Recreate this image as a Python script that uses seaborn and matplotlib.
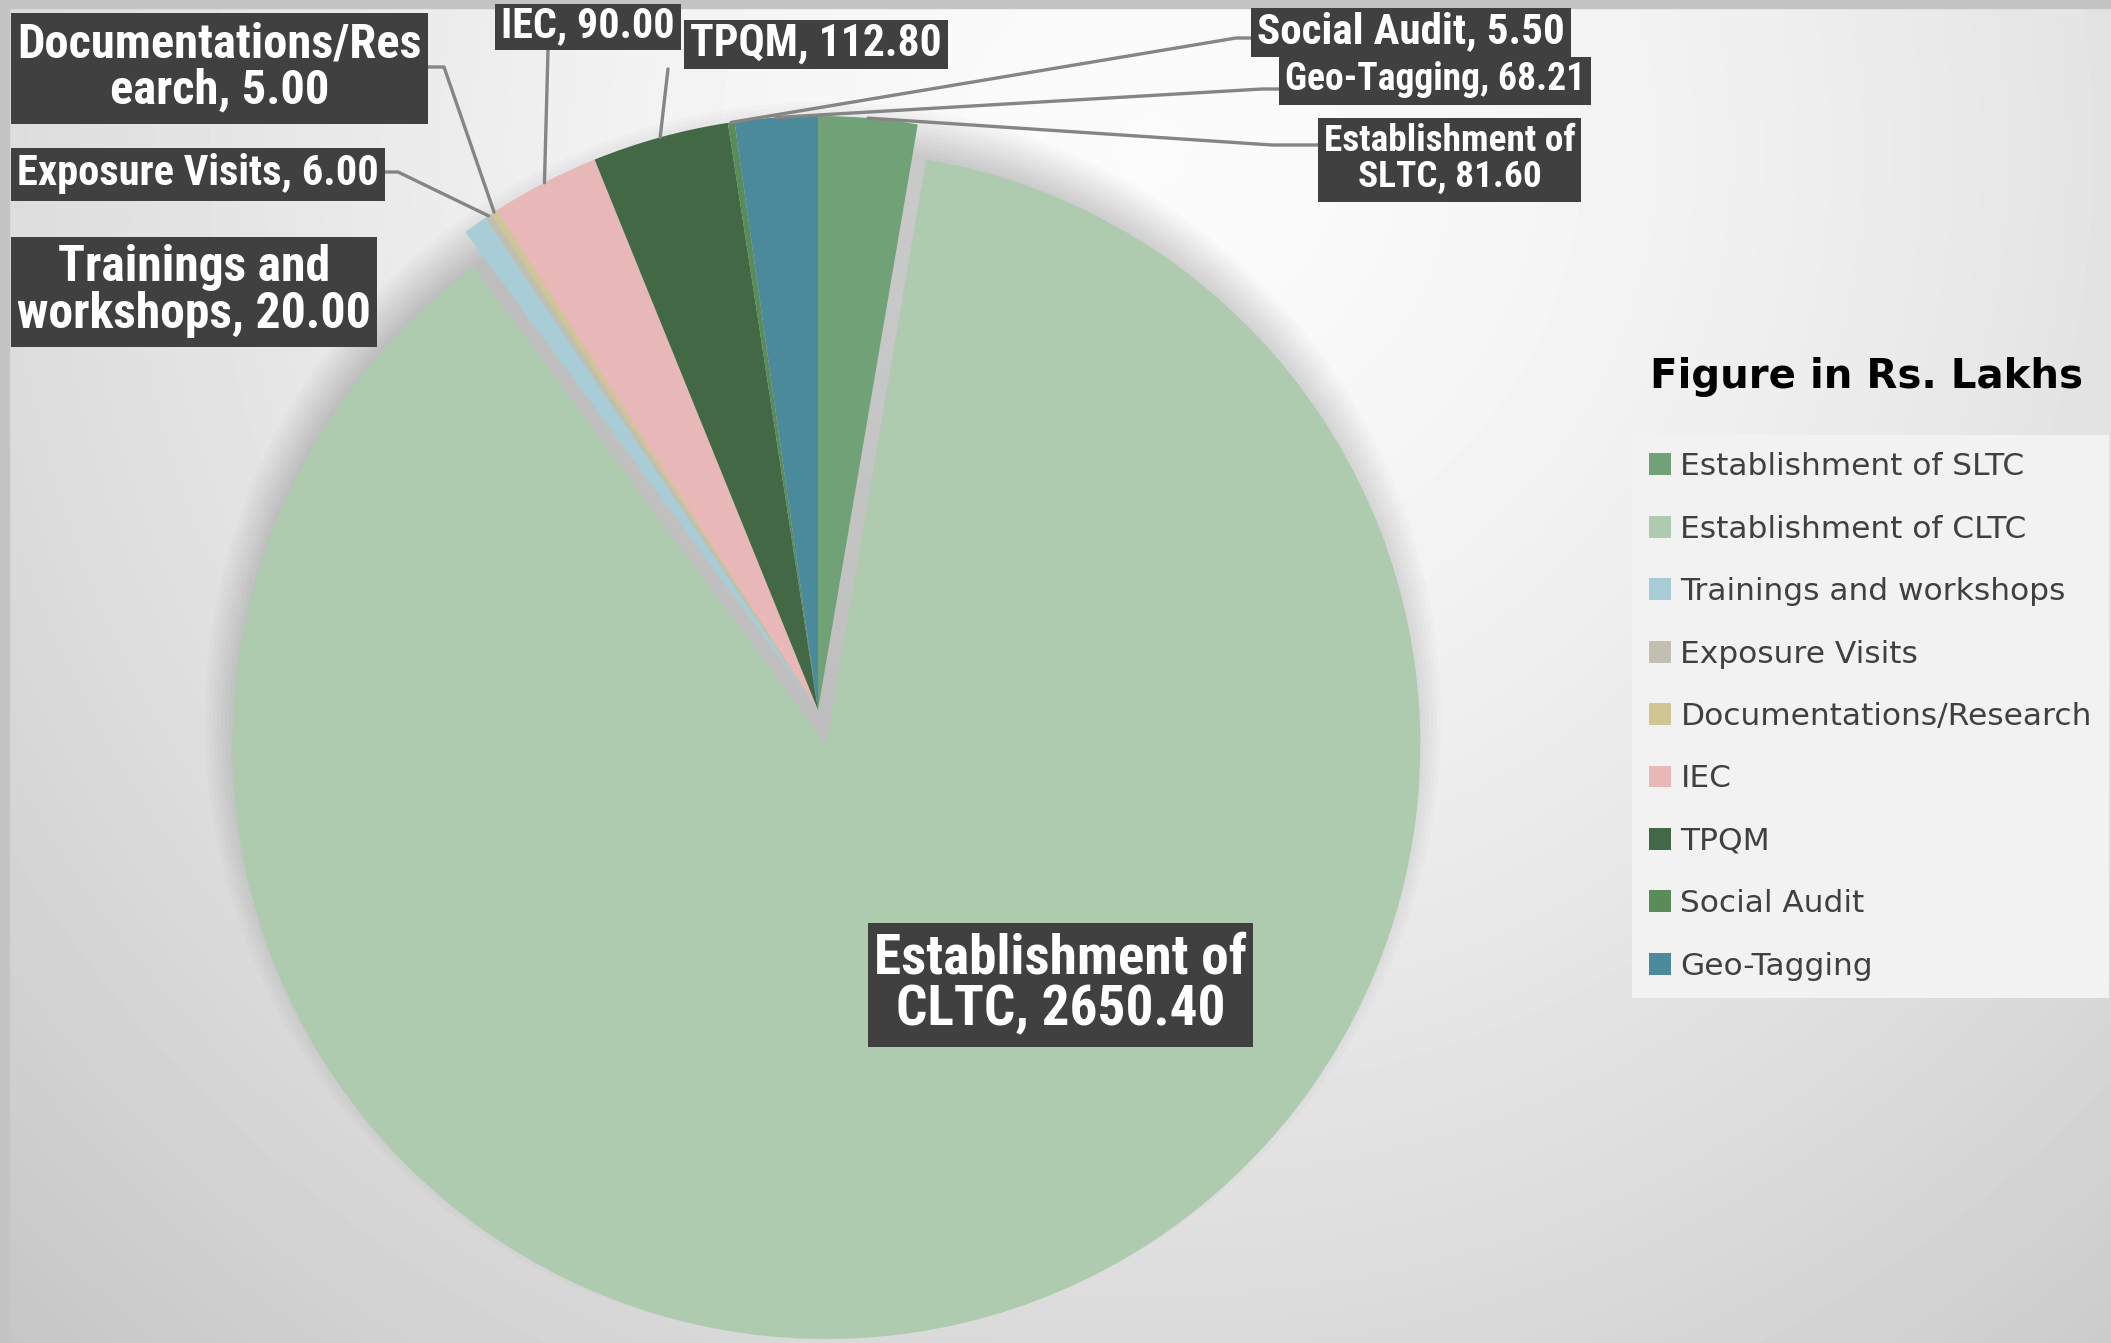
import numpy as np
import matplotlib.pyplot as plt
import seaborn as sns
from matplotlib import font_manager
from matplotlib.patches import Circle, Rectangle
from matplotlib.lines import Line2D

categories = ['Establishment of SLTC', 'Establishment of CLTC', 'Trainings and workshops',
              'Exposure Visits', 'Documentations/Research', 'IEC', 'TPQM',
              'Social Audit', 'Geo-Tagging']
values = [81.60, 2650.40, 20.00, 6.00, 5.00, 90.00, 112.80, 5.50, 68.21]
label_names = ['Establishment of\nSLTC', 'Establishment of\nCLTC', 'Trainings and\nworkshops',
               'Exposure Visits', 'Documentations/Res\nearch', 'IEC', 'TPQM',
               'Social Audit', 'Geo-Tagging']
colors = ['#70a177', '#aecbaf', '#a8cdd6', '#c0bfb0', '#cfc694',
          '#e8b8b8', '#426845', '#5a8c5a', '#4a8a9a']
legend_title = 'Figure in Rs. Lakhs'

sns.set_style('white')
plt.rcParams['font.family'] = ['DejaVu Sans']

# pick a narrow font for the data labels if one is installed
installed = {f.name for f in font_manager.fontManager.ttflist}
narrow = 'DejaVu Sans'
for name in ['Liberation Sans Narrow', 'Roboto Condensed', 'Open Sans Condensed', 'Noto Sans Display']:
    if name in installed:
        narrow = name
        break

W, H = 2111, 1343
fig = plt.figure(figsize=(W / 100, H / 100), dpi=100)
ax = fig.add_axes([0, 0, 1, 1])

# background: soft radial gradient, light at top centre
yy, xx = np.mgrid[0:H:4, 0:W:4]
d = np.hypot(xx - 1150, yy - 150) / 1200
bg = np.clip(0.985 - 0.13 * d ** 1.5, 0.77, 1.0)
ax.imshow(bg, cmap='gray', vmin=0, vmax=1, extent=[0, W, 0, H], origin='upper',
          zorder=0, interpolation='bilinear', aspect='auto')
ax.add_patch(Rectangle((0, H - 8), W, 8, color='#c4c4c4', zorder=1))
ax.add_patch(Rectangle((0, 0), 9, H, color='#c4c4c4', zorder=1))

cx, cy, r = 818, H - 710, 594

# soft shadow under the pie
for i in range(12):
    ax.add_patch(Circle((cx + 5, cy - 10), r - 20 + i * 4, color='black',
                        alpha=0.017, lw=0, zorder=1))

explode = [0, 36, 0, 0, 0, 0, 0, 0, 0]  # matplotlib uses data units here
wedges, _ = ax.pie(values, colors=colors, startangle=90, counterclock=False,
                   center=(cx, cy), radius=r, explode=explode, frame=True,
                   wedgeprops=dict(linewidth=0))
for w in wedges:
    w.set_zorder(3)

ax.set_xlim(0, W)
ax.set_ylim(0, H)
ax.set_axis_off()

# data label boxes in pixels from top-left: (x0, y0, x1, y1)
boxes = [
    (1318, 118, 1581, 202),
    (868, 923, 1253, 1047),
    (11, 237, 377, 347),
    (11, 148, 385, 201),
    (11, 13, 428, 124),
    (495, 4, 681, 50),
    (684, 20, 948, 69),
    (1251, 8, 1571, 57),
    (1279, 57, 1591, 105),
]
# leader lines: start at the box, optional elbow point
leaders = [
    [(1318, 145), (1272, 145)],
    None,
    None,
    [(385, 172), (398, 172)],
    [(428, 67), (444, 67)],
    [(548, 50)],
    [(668, 69)],
    [(1251, 38), (1236, 38)],
    [(1279, 89), (1262, 89)],
]

fig.canvas.draw()
renderer = fig.canvas.get_renderer()
for i, (w, name, v) in enumerate(zip(wedges, label_names, values)):
    x0, y0, x1, y1 = boxes[i]
    ax.add_patch(Rectangle((x0, H - y1), x1 - x0, y1 - y0, fc='#404040', ec='none', zorder=6))
    t = ax.text((x0 + x1) / 2, H - (y0 + y1) / 2 + 1, f'{name}, {v:.2f}', ha='center',
                va='center', color='white', fontsize=30, fontweight='bold',
                family=narrow, fontstretch='condensed', linespacing=1.0, zorder=7)
    ext = t.get_window_extent(renderer)
    scale = min((x1 - x0 - 12) / ext.width, (y1 - y0 - 4) / ext.height)
    t.set_fontsize(30 * scale)
    if leaders[i] is None:
        continue
    ang = np.deg2rad((w.theta1 + w.theta2) / 2)
    tx, ty = w.center[0] + r * np.cos(ang), w.center[1] + r * np.sin(ang)
    pts = [(tx, ty)] + [(px, H - py) for px, py in reversed(leaders[i])]
    ax.add_line(Line2D([p[0] for p in pts], [p[1] for p in pts], color='#858585',
                       lw=2.4, zorder=5))

# legend
ax.text(1867, H - 377, legend_title, ha='center', va='center', fontsize=29,
        fontweight='bold', color='black', zorder=6)
handles = [Rectangle((0, 0), 1, 1, fc=c, ec='none') for c in colors]
leg = fig.legend(handles, categories, loc='upper left', bbox_to_anchor=(1632 / W, 1 - 435 / H),
                 frameon=True, fancybox=False, facecolor='#f2f2f2', edgecolor='none',
                 framealpha=1, fontsize=22.5, handlelength=0.7, handleheight=0.7,
                 handletextpad=0.3, labelspacing=1.07, borderpad=0.55, borderaxespad=0)
for t in leg.get_texts():
    t.set_color('#404040')

fig.savefig('out.png', dpi=100)
